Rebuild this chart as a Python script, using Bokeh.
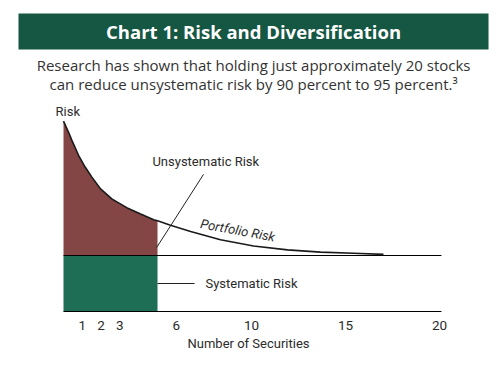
from bokeh.plotting import figure
from bokeh.models import Range1d, FixedTicker
from bokeh.core.properties import value
from bokeh.embed import file_html
from bokeh.resources import INLINE

# ---- data ----
risk_x = [0, 0.27, 0.44, 0.8, 1.15, 1.51, 1.97, 2.57, 2.93, 3.39, 4.1, 4.8, 5.0,
          5.69, 6.76, 8.35, 10.11, 11.91, 13.67, 15.43, 17.02]
risk_y = [3.40, 3.20, 3.06, 2.79, 2.58, 2.40, 2.19, 2.01, 1.94, 1.85, 1.74, 1.64, 1.62,
          1.54, 1.43, 1.28, 1.17, 1.10, 1.06, 1.04, 1.02]
systematic_level = 1.0
diversified_n = 5.0
axis_end = 20.1
tick_values = [1, 2, 3, 6, 10, 15, 20]

title_text = "Chart 1: Risk and Diversification"
subtitle_1 = "Research has shown that holding just approximately 20 stocks"
subtitle_2 = "can reduce unsystematic risk by 90 percent to 95 percent.\u00b3"

LBL = "Roboto"
TXT = "#2b2b2b"

p = figure(frame_width=496, frame_height=313, output_backend="svg", toolbar_location=None,
           x_range=Range1d(-3.351, 23.03), y_range=Range1d(-0.0357, 5.554),
           y_axis_location=None, min_border_left=0, min_border_right=0, min_border_top=0,
           min_border_bottom=4)
p.outline_line_color = None
p.xgrid.visible = False
p.ygrid.visible = False
p.background_fill_color = "white"
p.border_fill_color = "white"

ax = p.xaxis[0]
ax.ticker = FixedTicker(ticks=tick_values)
ax.axis_line_color = None
ax.major_tick_line_color = None
ax.minor_tick_line_color = None
ax.major_label_text_font = LBL
ax.major_label_text_font_size = "13.5px"
ax.major_label_text_color = TXT
ax.major_label_standoff = 1
ax.axis_label = "Number of Securities"
ax.axis_label_text_font = LBL
ax.axis_label_text_font_size = "13px"
ax.axis_label_text_font_style = "normal"
ax.axis_label_text_color = TXT
ax.axis_label_standoff = 3

# header banner
p.quad(left=[-2.394], right=[22.606], top=[5.321], bottom=[4.679], fill_color="#155743", line_color=None)
p.text(x=[10.11], y=[5.0], text=[title_text], text_color="white", text_font=value("Open Sans"),
       text_font_style="bold", text_font_size="18.5px", text_align="center", text_baseline="middle")
p.text(x=[10.11, 10.11], y=[4.41, 4.06], text=[subtitle_1, subtitle_2], text_color="#333333",
       text_font=value("Open Sans"), text_font_size="15px", text_align="center", text_baseline="middle")

# systematic risk block
p.quad(left=[0], right=[diversified_n], bottom=[0], top=[systematic_level], fill_color="#1d6e55", line_color=None)
# unsystematic risk area
n_fill = sum(1 for v in risk_x if v <= diversified_n)
p.varea(x=risk_x[:n_fill], y1=[systematic_level] * n_fill, y2=risk_y[:n_fill], fill_color="#844545")

# horizontal lines
p.line(x=[0, axis_end], y=[systematic_level, systematic_level], line_color="black", line_width=1.2)
p.line(x=[0, axis_end], y=[0, 0], line_color="black", line_width=1.2)

# portfolio risk curve
p.line(x=risk_x, y=risk_y, line_color="#1a1a1a", line_width=1.6, line_join="round")

# leader lines
p.segment(x0=[4.95], y0=[1.14], x1=[7.45], y1=[2.45], line_color="#222222", line_width=1)
p.segment(x0=[diversified_n], y0=[0.5], x1=[6.97], y1=[0.5], line_color="#222222", line_width=1)

# labels
p.text(x=[-0.426], y=[3.57], text=["Risk"], text_color=TXT, text_font=value(LBL),
       text_font_size="13px", text_align="left", text_baseline="middle")
p.text(x=[4.73], y=[2.68], text=["Unsystematic Risk"], text_color=TXT, text_font=value(LBL),
       text_font_size="13px", text_align="left", text_baseline="middle")
p.text(x=[7.55], y=[0.5], text=["Systematic Risk"], text_color=TXT, text_font=value(LBL),
       text_font_size="13px", text_align="left", text_baseline="middle")
p.text(x=[7.29], y=[1.57], text=["Portfolio Risk"], text_color=TXT, text_font=value(LBL),
       text_font_size="13px", text_font_style="italic", angle=-0.18,
       text_align="left", text_baseline="middle")

open("out.html", "w").write(file_html(p, INLINE))
